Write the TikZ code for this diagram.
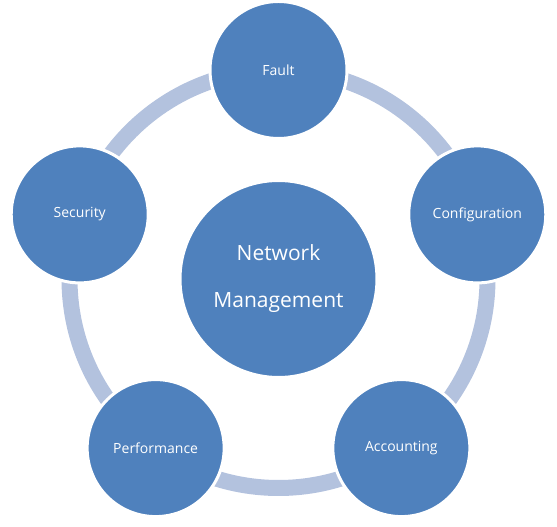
\documentclass[tikz,border=0pt]{standalone}
\usepackage{fontspec}
\setmainfont{Open Sans}
\usetikzlibrary{positioning}

\definecolor{nodeblue}{RGB}{79,129,189}
\definecolor{ringblue}{RGB}{179,194,222}

\begin{document}
\begin{tikzpicture}[x=1pt,y=1pt,
    hubcircle/.style={circle, fill=nodeblue, draw=white, line width=3pt,
      minimum size=197pt, inner sep=0pt, text=white, align=center,
      font=\fontsize{21}{47}\selectfont},
    areacircle/.style={circle, fill=nodeblue, draw=white, line width=3pt,
      minimum size=137pt, inner sep=0pt, text=white,
      font=\fontsize{14}{17}\selectfont}]

      % Page frame
      \useasboundingbox (0,0) rectangle (557,527);
      \coordinate (hub) at (278.5,248);

      % Ring behind the circles
      \draw[ringblue, line width=16pt] (hub) circle (209);

      % Centre
      \node[hubcircle] (netmgmt) at (hub) {Network\\Management};

      % Management areas
      \foreach \name/\ang/\txt in {fault/90/Fault, config/18/Configuration,
        account/-54/Accounting, perform/-126/Performance, secur/162/Security}
      \node[areacircle] (\name) at ([shift={(hub)}]\ang:209) {\txt};

\end{tikzpicture}
\end{document}
